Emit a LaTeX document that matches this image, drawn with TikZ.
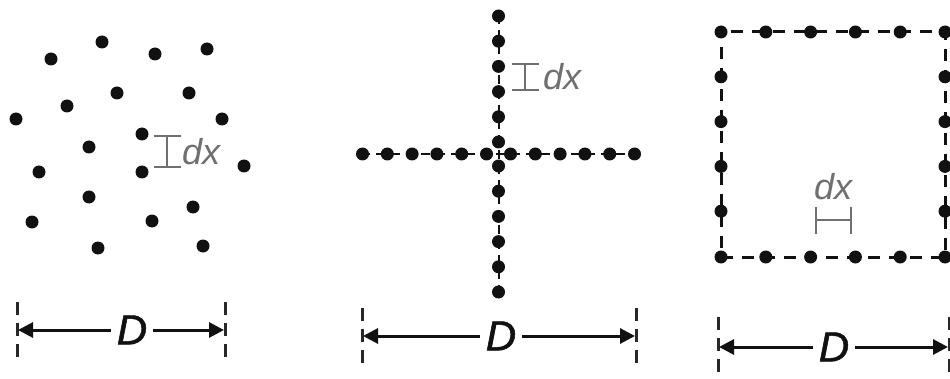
\documentclass[tikz,border=0pt]{standalone}
\usepackage{fontspec}
\setmainfont{Liberation Sans}
\font\spanfont="Liberation Sans/I:embolden=1.3" at 42pt
\usetikzlibrary{arrows.meta}

\definecolor{dotInk}{RGB}{17,17,17}
\definecolor{markGray}{RGB}{112,112,112}
\definecolor{tickGray}{RGB}{40,40,40}

\tikzset{
  grain/.style={circle,fill=dotInk,minimum size=13pt,inner sep=0pt},
  gaplabel/.style={text=markGray,font=\fontsize{36}{36}\selectfont\itshape,inner sep=0pt},
  gapmark/.style={draw=markGray,line width=2pt,{Bar[width=27pt]}-{Bar[width=27pt]}},
  spanlabel/.style={text=dotInk,font=\spanfont,inner sep=6pt},
  spanarrow/.style={draw=dotInk,line width=3pt,-{Triangle[length=15pt,width=15pt]}},
  spantick/.style={draw=tickGray,line width=3pt,dash pattern=on 13pt off 8pt},
  armline/.style={draw=dotInk,line width=2pt,dash pattern=on 9pt off 6pt},
  rimline/.style={draw=dotInk,line width=3pt,dash pattern=on 12pt off 9pt,dash phase=-10pt},
}

\begin{document}
\begin{tikzpicture}[x=1pt,y=1pt]
\useasboundingbox (0,0) rectangle (950,378);
% scattered grains
\foreach \gx/\gy [count=\i] in {102/336,51/319,155/324,207/329,117/285,189/285,67/272,16/259,222/259,142/244,
  89/231,39/206,142/206,244/212,89/181,193/171,32/156,152/157,98/130,203/132}
  \node[grain] (scat-\i) at (\gx,\gy) {};
\coordinate (gapTop1) at (167,243);
\coordinate (gapBot1) at (167,210);
\draw[gapmark] (gapTop1) -- (gapBot1);
\node[gaplabel,anchor=west] (gap1) at (182,226) {dx};
% cross of grains
\coordinate (crC) at (498.5,224);
\coordinate (crN) at (498.5,363);
\coordinate (crS) at (498.5,85);
\coordinate (crW) at (361,224);
\coordinate (crE) at (635,224);
\draw[armline] (crN) -- (crS);
\draw[armline] (crW) -- (crE);
\foreach \k in {0,...,5}{
  \node[grain] (arm-n-\k) at ([yshift={12+25.2*\k}]crC) {};
  \node[grain] (arm-s-\k) at ([yshift={-12-25.2*\k}]crC) {};
  \node[grain] (arm-e-\k) at ([xshift={12+24.8*\k}]crC) {};
  \node[grain] (arm-w-\k) at ([xshift={-12-24.8*\k}]crC) {};
}
\coordinate (gapTop2) at (525,315);
\coordinate (gapBot2) at (525,287);
\draw[gapmark] (gapTop2) -- (gapBot2);
\node[gaplabel,anchor=west] (gap2) at (543,301) {dx};
% square of grains
\coordinate (sqNW) at (721,346);
\coordinate (sqNE) at (945,346);
\coordinate (sqSE) at (945,121);
\coordinate (sqSW) at (721,121);
\draw[rimline] (sqNW) -- (sqNE) -- (sqSE) -- (sqSW) -- cycle;
\foreach \k in {0,...,5}{
  \node[grain] (rim-t-\k) at ([xshift={44.8*\k}]sqNW) {};
  \node[grain] (rim-b-\k) at ([xshift={44.8*\k}]sqSW) {};
}
\foreach \k in {1,...,4}{
  \node[grain] (rim-l-\k) at ([yshift={-44.8*\k}]sqNW) {};
  \node[grain] (rim-r-\k) at ([yshift={-44.8*\k}]sqNE) {};
}
\coordinate (gapL3) at (815,158);
\coordinate (gapR3) at (852,158);
\draw[gapmark] (gapL3) -- (gapR3);
\node[gaplabel] (gap3) at (833,191) {dx};
% spans D
\draw[spantick] (17,76) -- (17,21);
\draw[spantick] (225,76) -- (225,21);
\coordinate (spanL1) at (18,48);
\coordinate (spanR1) at (224,48);
\node[spanlabel] (span1) at (132,48) {D};
\draw[spanarrow] (span1) -- (spanL1);
\draw[spanarrow] (span1) -- (spanR1);
\draw[spantick] (362,70) -- (362,15);
\draw[spantick] (636,70) -- (636,15);
\coordinate (spanL2) at (363,42);
\coordinate (spanR2) at (635,42);
\node[spanlabel] (span2) at (501,42) {D};
\draw[spanarrow] (span2) -- (spanL2);
\draw[spanarrow] (span2) -- (spanR2);
\draw[spantick] (718,61) -- (718,0);
\draw[spantick] (949,61) -- (949,0);
\coordinate (spanL3) at (719,31);
\coordinate (spanR3) at (948,31);
\node[spanlabel] (span3) at (834,31) {D};
\draw[spanarrow] (span3) -- (spanL3);
\draw[spanarrow] (span3) -- (spanR3);
\end{tikzpicture}
\end{document}
